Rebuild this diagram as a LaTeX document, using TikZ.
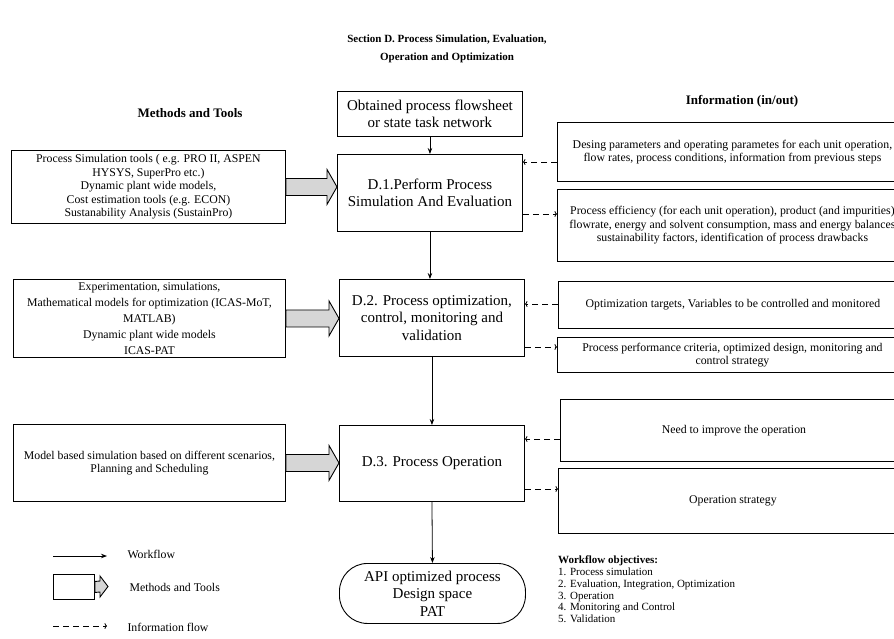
\documentclass[tikz,border=0pt]{standalone}
\usepackage{fontspec}
\setmainfont{Liberation Serif}
\usetikzlibrary{arrows.meta,calc}
\newcommand\fatarr[2]{%
  \draw[fat] ($(#1)+(0,-8.5)$) -- ($(#2)+(-10,-8.5)$) -- ($(#2)+(-10,-17.5)$) -- (#2)
    -- ($(#2)+(-10,17.5)$) -- ($(#2)+(-10,8.5)$) -- ($(#1)+(0,8.5)$) -- cycle;}
\begin{document}
\begin{tikzpicture}[x=1pt,y=-1pt,
  box/.style={draw, line width=0.9pt, inner sep=0pt, align=center, anchor=north west},
  small/.style={font=\fontsize{11.8}{13.6}\selectfont},
  big/.style={font=\fontsize{15}{17.6}\selectfont},
  head/.style={font=\bfseries\fontsize{13}{15}\selectfont},
  wf/.style={-{Stealth[length=6pt,width=4.5pt]}, line width=0.8pt},
  info/.style={-{To[length=2.5pt,width=6pt]}, dash pattern=on 6pt off 4pt, line width=0.8pt},
  fat/.style={draw, line width=0.9pt, fill=black!16}]
\useasboundingbox (0,0) rectangle (894,638);

% title and headings
\node[font=\bfseries\fontsize{11}{18}\selectfont, align=center] (title) at (447,49)
  {Section D. Process Simulation, Evaluation,\\Operation and Optimization};
\node[head] (hmt) at (190,113) {Methods and Tools};
\node[head] (hinfo) at (742,101) {Information (in/out)};

% central column
\node[box, big, minimum width=185, minimum height=45] (top) at (337,91)
  {Obtained process flowsheet\\or state task network};
\node[box, big, minimum width=185, minimum height=77] (D1) at (337,154)
  {D.1.Perform Process\\Simulation And Evaluation};
\node[box, big, minimum width=185, minimum height=77] (D2) at (339,279)
  {D.2. Process optimization,\\control, monitoring and\\validation};
\node[box, big, minimum width=185, minimum height=76] (D3) at (339,425)
  {D.3. Process Operation};
\node[draw, line width=0.9pt, big, align=center, rounded corners=28pt, inner sep=0pt,
  minimum width=186, minimum height=60, anchor=north west] (term) at (339,563)
  {API optimized process\\Design space\\PAT};

% left column
\node[box, small, minimum width=274, minimum height=73] (L1) at (11,150)
  {Process Simulation tools ( e.g. PRO II, ASPEN\\HYSYS, SuperPro etc.)\\Dynamic plant wide models,\\Cost estimation tools (e.g. ECON)\\Sustanability Analysis (SustainPro)};
\node[box, font=\fontsize{11.8}{16}\selectfont, minimum width=272, minimum height=78] (L2) at (13,279)
  {Experimentation, simulations,\\Mathematical models for optimization (ICAS-MoT,\\MATLAB)\\Dynamic plant wide models\\ICAS-PAT};
\node[box, small, minimum width=272, minimum height=77] (L3) at (13,424)
  {Model based simulation based on different scenarios,\\Planning and Scheduling};

% right column
\node[box, small, minimum width=350, minimum height=59] (R1) at (557,122)
  {Desing parameters and operating parametes for each unit operation,\\flow rates, process conditions, information from previous steps};
\node[box, small, minimum width=350, minimum height=72] (R2) at (557,189)
  {Process efficiency (for each unit operation), product (and impurities)\\flowrate, energy and solvent consumption, mass and energy balances\\sustainability factors, identification of process drawbacks};
\node[box, small, minimum width=349, minimum height=47] (R3) at (558,281)
  {Optimization targets, Variables to be controlled and monitored};
\node[box, small, minimum width=350, minimum height=35] (R4) at (557,337)
  {Process performance criteria, optimized design, monitoring and\\control strategy};
\node[box, small, minimum width=347, minimum height=62] (R5) at (560,399)
  {Need to improve the operation};
\node[box, small, minimum width=349, minimum height=65] (R6) at (558,468)
  {Operation strategy};

% workflow arrows
\draw[wf] (top.south) -- (D1.north);
\draw[wf] (D1.south) -- (D1.south |- D2.north);
\draw[wf] (D2.south) -- (D3.north);
\draw[wf] (D3.south) -- (term.north);

% methods and tools arrows
\coordinate (t1) at (L1.east -| D1.west);
\coordinate (t2) at (L2.east -| D2.west);
\coordinate (t3) at (L3.east -| D3.west);
\fatarr{L1.east}{t1}
\fatarr{L2.east}{t2}
\fatarr{L3.east}{t3}

% information flow
\coordinate (i1) at (0,162);
\coordinate (o1) at (0,214);
\coordinate (i2) at (0,304);
\coordinate (o2) at (0,347);
\coordinate (i3) at (0,439);
\coordinate (o3) at (0,489);
\draw[info] (R1.west |- i1) -- (D1.east |- i1);
\draw[info] (D1.east |- o1) -- (R2.west |- o1);
\draw[info] (R3.west |- i2) -- (D2.east |- i2);
\draw[info] (D2.east |- o2) -- (R4.west |- o2);
\draw[info] (R5.west |- i3) -- (D3.east |- i3);
\draw[info] (D3.east |- o3) -- (R6.west |- o3);

% legend
\coordinate (lw1) at (53,556);
\coordinate (lw2) at (107,556);
\draw[wf] (lw1) -- (lw2);
\node[small, anchor=west] (lwt) at (124,554) {Workflow};
\node[box, minimum width=41, minimum height=25] (lmb) at (53,574) {};
\coordinate (lmt) at (108,586.5);
\draw[fat] ($(lmb.east)+(0,-5.5)$) -- ($(lmt)+(-8,-5.5)$) -- ($(lmt)+(-8,-10.5)$) -- (lmt)
  -- ($(lmt)+(-8,10.5)$) -- ($(lmt)+(-8,5.5)$) -- ($(lmb.east)+(0,5.5)$) -- cycle;
\node[small, anchor=west] (lmtt) at (126,587) {Methods and Tools};
\coordinate (li1) at (53,626);
\coordinate (li2) at (107,626);
\draw[info] (li1) -- (li2);
\node[small, anchor=west] (lit) at (124,627) {Information flow};

% workflow objectives
\node[align=left, anchor=north west, inner sep=0pt, font=\fontsize{11}{11.7}\selectfont] (obj) at (558,556)
  {\textbf{Workflow objectives:}\\1. Process simulation\\2. Evaluation, Integration, Optimization\\3. Operation\\4. Monitoring and Control\\5. Validation};
\end{tikzpicture}
\end{document}
